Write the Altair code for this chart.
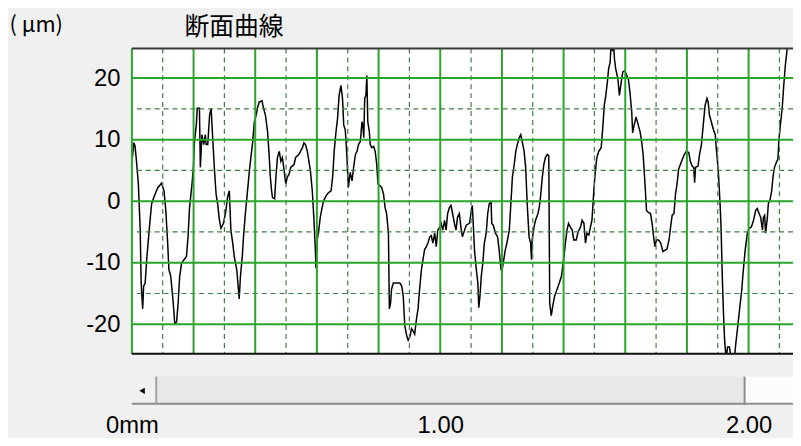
import altair as alt
import pandas as pd

# ---- profile curve (x in mm, height in µm) ----
x_mm = [
    0.002, 0.006, 0.010, 0.014, 0.021, 0.027, 0.030, 0.035, 0.038, 0.043, 0.048, 0.056, 0.064, 0.073, 0.084,
    0.096, 0.104, 0.110, 0.116, 0.120, 0.126, 0.134, 0.139, 0.145, 0.150, 0.155, 0.161, 0.169, 0.177, 0.182,
    0.187, 0.195, 0.200, 0.203, 0.209, 0.212, 0.219, 0.222, 0.227, 0.233, 0.238, 0.241, 0.246, 0.252, 0.257,
    0.262, 0.268, 0.273, 0.278, 0.284, 0.289, 0.297, 0.305, 0.310, 0.316, 0.321, 0.327, 0.332, 0.340, 0.348,
    0.352, 0.358, 0.362, 0.368, 0.376, 0.381, 0.387, 0.392, 0.397, 0.403, 0.408, 0.413, 0.422, 0.426, 0.433,
    0.440, 0.445, 0.449, 0.453, 0.456, 0.463, 0.467, 0.472, 0.478, 0.483, 0.488, 0.494, 0.499, 0.504, 0.510,
    0.515, 0.526, 0.531, 0.542, 0.553, 0.558, 0.563, 0.569, 0.574, 0.579, 0.585, 0.590, 0.595, 0.597, 0.601,
    0.606, 0.611, 0.617, 0.622, 0.630, 0.638, 0.646, 0.651, 0.656, 0.662, 0.667, 0.672, 0.678, 0.683, 0.687,
    0.692, 0.697, 0.702, 0.708,
    0.714, 0.719, 0.725, 0.730, 0.735, 0.741, 0.746, 0.749, 0.752, 0.755, 0.759, 0.762, 0.765, 0.770, 0.773,
    0.778, 0.784, 0.789, 0.794, 0.798, 0.805, 0.810, 0.816, 0.821, 0.826, 0.832, 0.835, 0.839, 0.842, 0.848,
    0.859, 0.869, 0.875, 0.880, 0.885, 0.891, 0.896, 0.901, 0.907, 0.912, 0.917, 0.923, 0.928, 0.933, 0.939,
    0.944, 0.949, 0.955, 0.960, 0.966, 0.971, 0.976, 0.982, 0.987, 0.992, 0.998, 1.003, 1.008, 1.014, 1.019,
    1.024, 1.030, 1.035, 1.040, 1.046, 1.051, 1.056, 1.062, 1.067, 1.072,
    1.079, 1.084, 1.095, 1.101, 1.104, 1.108, 1.111, 1.117, 1.122, 1.125, 1.129, 1.133, 1.138, 1.143, 1.149,
    1.154, 1.159, 1.165, 1.167, 1.172, 1.179, 1.186, 1.191, 1.197, 1.200, 1.204, 1.211, 1.216, 1.224, 1.229,
    1.234, 1.240, 1.245, 1.250, 1.256, 1.261, 1.266, 1.272, 1.277, 1.282, 1.288, 1.293, 1.296, 1.298, 1.304,
    1.309, 1.317, 1.321, 1.325, 1.331, 1.336, 1.341, 1.347, 1.352, 1.355, 1.360, 1.365, 1.371, 1.379, 1.386,
    1.393, 1.400, 1.406, 1.411, 1.416, 1.422,
    1.428, 1.433, 1.441, 1.447, 1.455, 1.460, 1.466, 1.471, 1.476, 1.482, 1.487, 1.492, 1.498, 1.503, 1.508,
    1.514, 1.522, 1.527, 1.532, 1.537, 1.542, 1.546, 1.551, 1.554, 1.559, 1.562, 1.565, 1.569, 1.576, 1.581,
    1.587, 1.592, 1.599, 1.605, 1.610, 1.615, 1.621, 1.624, 1.629, 1.635, 1.642, 1.648, 1.653, 1.658, 1.664,
    1.669, 1.674, 1.682, 1.687, 1.692, 1.696, 1.701, 1.708, 1.715, 1.722, 1.728, 1.735, 1.742, 1.747, 1.752,
    1.758, 1.763, 1.768, 1.773, 1.779, 1.785, 1.792,
    1.798, 1.806, 1.811, 1.817, 1.822, 1.825, 1.828, 1.836, 1.841, 1.847, 1.852, 1.855, 1.859, 1.865, 1.869,
    1.873, 1.879, 1.886, 1.892, 1.895, 1.899, 1.903, 1.908, 1.911, 1.914, 1.918, 1.922, 1.927, 1.932, 1.938,
    1.943, 1.954, 1.959, 1.964, 1.972, 1.978, 1.982, 1.989, 1.996, 2.002, 2.009, 2.016, 2.023, 2.028, 2.034,
    2.039, 2.045, 2.048, 2.052, 2.055, 2.061, 2.064, 2.069, 2.075, 2.079, 2.084, 2.090, 2.095, 2.098, 2.103,
    2.109, 2.114, 2.119, 2.125, 2.128,
]
z_um = [
    7.2, 9.5, 9.0, 7.0, 2.8, -4.7, -13.3, -17.5, -13.8, -13.3, -9.5, -4.7, -0.4, 0.9, 2.2,
    2.9, 1.7, -1.5, -6.8, -11.1, -12.2, -16.5, -19.9, -19.6, -16.5, -12.2, -10.1, -9.5, -9.0, -5.8,
    -1.0, 2.8, 6.0, 9.7, 12.4, 15.1, 15.1, 5.5, 10.8, 9.2, 10.8, 9.2, 9.2, 14.0, 15.1,
    10.3, 4.9, 1.2, -0.4, -3.1, -4.4, -3.6, -1.5, 0.6, 1.7, -4.7, -6.8, -9.0, -11.1, -15.9,
    -12.2, -9.0, -5.8, -2.0, 2.2, 4.9, 7.6, 9.7, 12.9, 14.0, 15.3, 16.1, 16.3, 15.3, 14.0,
    11.3, 7.6, 3.9, 1.7, 0.6, 0.4, 3.9, 7.1, 8.1, 6.5, 7.1, 4.9, 2.8, 3.9, 4.4,
    5.5, 6.0, 7.1, 7.6, 8.7, 9.5, 9.2, 8.1, 6.5, 4.9, 1.7, -2.6, -7.9, -10.9, -6.3,
    -4.7, -2.6, -1.0, 0.1, 0.9, 1.4, 1.7, 3.9, 8.1, 11.3, 13.5, 17.2, 18.8, 16.7, 12.4,
    11.6, 7.6, 2.2, 4.7,
    3.3, 5.5, 7.6, 8.1, 9.2, 9.7, 12.9, 12.4, 10.3, 16.7, 17.2, 20.4, 12.9, 11.3, 9.2,
    8.7, 8.9, 8.1, 6.0, 2.8, 2.5, 2.2, 1.2, -1.0, -2.0, -5.2, -17.5, -16.5, -14.3, -13.3,
    -13.3, -13.3, -13.8, -15.4, -20.2, -21.8, -22.6, -22.1, -20.7, -21.1, -21.6, -19.1, -17.5, -14.3, -11.1,
    -9.5, -7.9, -7.4, -6.8, -5.8, -5.6, -6.8, -5.2, -7.4, -4.7, -4.2, -3.6, -4.7, -3.1, -4.7,
    -2.0, -1.0, -0.7, -2.0, -3.6, -4.7, -2.6, -2.0, -4.2, -5.8,
    -4.7, -3.9, -3.6, -1.5, -0.7, -4.7, -7.9, -11.1, -13.3, -17.3, -15.4, -12.2, -10.1, -6.8, -5.2,
    -2.0, -0.4, -0.2, -3.6, -3.9, -5.2, -5.8, -7.9, -11.1, -11.4, -10.1, -7.9, -6.8, -4.7, -0.4,
    3.9, 6.0, 8.1, 9.2, 10.3, 10.8, 9.7, 8.1, 5.5, -0.4, -5.8, -6.8, -9.5, -6.3, -4.2,
    -3.1, -2.0, -1.0, 0.6, 3.9, 6.0, 7.1, 7.6, 7.4, -16.5, -18.6, -17.0, -15.4, -14.3, -13.3,
    -12.2, -9.5, -6.8, -4.7, -3.6, -4.2,
    -4.7, -6.3, -6.3, -5.0, -4.2, -3.1, -3.6, -6.8, -5.2, -5.5, -4.2, -3.1, 1.7, 4.9, 7.1,
    8.1, 8.7, 11.9, 15.6, 17.2, 19.4, 21.5, 22.6, 25.5, 24.4, 25.5, 23.1, 21.5, 19.9, 17.2,
    19.4, 21.0, 21.2, 20.4, 19.9, 17.8, 14.5, 11.1, 12.4, 13.7, 12.4, 11.3, 9.7, 7.6, 2.8,
    -1.5, -1.8, -2.0, -3.6, -5.8, -7.4, -6.3, -6.3, -6.8, -8.2, -8.0, -7.8, -6.3, -4.2, -2.3,
    -2.0, 1.2, 2.8, 5.2, 6.0, 6.8, 7.6,
    8.1, 7.9, 6.5, 5.7, 5.5, 3.0, 5.5, 5.7, 7.6, 9.2, 11.9, 13.5, 15.6, 16.7, 16.1,
    14.0, 12.9, 11.6, 10.8, 8.7, 6.5, 3.9, -1.0, -4.7, -11.1, -17.5, -22.4, -25.5, -23.7, -23.7,
    -25.5, -25.5, -22.9, -20.7, -17.0, -14.3, -11.7, -7.9, -5.2, -4.4, -4.2, -3.1, -1.5, -1.2, -2.0,
    -2.6, -4.7, -2.6, -2.3, -5.2, -2.6, -0.4, 0.1, 1.7, 3.9, 5.5, 6.3, 6.8, 9.7, 12.4,
    15.1, 18.8, 22.0, 24.7, 26.0,
]

# ---- grid / ticks ----
major_x = [0.0, 0.2, 0.4, 0.6, 0.8, 1.0, 1.2, 1.4, 1.6, 1.8, 2.0]
minor_x = [0.1, 0.3, 0.5, 0.7, 0.9, 1.1, 1.3, 1.5, 1.7, 1.9, 2.1]
major_y = [-20, -10, 0, 10, 20]
minor_y = [-15, -5, 5, 15]
x_ticks = [0, 1, 2]
y_ticks = [-20, -10, 0, 10, 20]

# ---- scrollbar pieces (drawn in the same mm / µm coordinates, below the plot) ----
sb_x0 = [0.0, 0.0, 1.987]
sb_x1 = [2.144, 0.079, 2.144]
sb_fill = ["#e8e8e8", "#f0f0f0", "#fcfcfc"]
sb_top, sb_bottom = -28.5, -33.1

X_DOMAIN = [0, 2.144]
Y_DOMAIN = [-24.8, 24.8]

xs = alt.Scale(domain=X_DOMAIN, nice=False, zero=False)
ys = alt.Scale(domain=Y_DOMAIN, nice=False, zero=False)

LABEL_FONT = "Liberation Sans Narrow, Liberation Sans, sans-serif"
SOLID = "#2aa52a"
DASHED = "#3f7f3f"

X_AXIS = alt.Axis(
    values=x_ticks,
    labelExpr="datum.value == 0 ? '0mm' : format(datum.value, '.2f')",
    ticks=False,
    domain=False,
    grid=False,
    labelPadding=60,
    labelFontSize=24,
    labelFont=LABEL_FONT,
    labelColor="black",
    labelFlush=False,
    labelOverlap=False,
    title=None,
)
Y_AXIS = alt.Axis(
    values=y_ticks,
    labelExpr="'' + datum.value",
    ticks=False,
    domain=False,
    grid=False,
    labelPadding=12,
    labelFontSize=24,
    labelFont=LABEL_FONT,
    labelColor="black",
    title="( μm)",
    titleAngle=0,
    titleX=-124,
    titleY=-24,
    titleAlign="left",
    titleBaseline="middle",
    titleFontSize=22,
    titleFont="Noto Sans CJK JP",
    titleFontWeight="normal",
    titleColor="black",
)


def X(field):
    return alt.X(field, type="quantitative", scale=xs, axis=X_AXIS)


def Y(field):
    return alt.Y(field, type="quantitative", scale=ys, axis=Y_AXIS)


profile = pd.DataFrame({"x": x_mm, "z": z_um})

minor_v = alt.Chart(pd.DataFrame({"x": minor_x})).mark_rule(
    color=DASHED, strokeWidth=1.2, strokeDash=[5, 4]
).encode(x=X("x"))
minor_h = alt.Chart(pd.DataFrame({"z": minor_y})).mark_rule(
    color=DASHED, strokeWidth=1.2, strokeDash=[5, 4]
).encode(y=Y("z"))
major_v = alt.Chart(pd.DataFrame({"x": major_x})).mark_rule(
    color=SOLID, strokeWidth=2
).encode(x=X("x"))
major_h = alt.Chart(pd.DataFrame({"z": major_y})).mark_rule(
    color=SOLID, strokeWidth=2
).encode(y=Y("z"))

line = alt.Chart(profile).mark_line(color="black", strokeWidth=1.5, clip=True).encode(
    x=X("x"), y=Y("z")
)

borders = alt.Chart(
    pd.DataFrame({"z": [Y_DOMAIN[1], Y_DOMAIN[0]], "c": ["#3a3a3a", "#111111"]})
).mark_rule(strokeWidth=2).encode(y=Y("z"), color=alt.Color("c:N", scale=None))

sb = pd.DataFrame({"x": sb_x0, "x2": sb_x1, "z": [sb_top] * 3, "z2": [sb_bottom] * 3, "c": sb_fill})
sb_rects = alt.Chart(sb).mark_rect().encode(
    x=X("x"), x2="x2", y=Y("z"), y2="z2", color=alt.Color("c:N", scale=None)
)
sb_lines_df = pd.DataFrame({
    "x": [0.0, 0.079, 1.987],
    "x2": [2.144, 0.079, 1.987],
    "z": [sb_bottom + 0.2, sb_top, sb_top],
    "z2": [sb_bottom + 0.2, sb_bottom, sb_bottom],
    "c": ["#8c8c8c", "#a0a0a0", "#8c8c8c"],
})
sb_lines = alt.Chart(sb_lines_df).mark_rule(strokeWidth=2).encode(
    x=X("x"), x2="x2", y=Y("z"), y2="z2", color=alt.Color("c:N", scale=None)
)
arrow = alt.Chart(pd.DataFrame({"x": [0.033], "z": [-30.8]})).mark_point(
    shape="triangle-left", filled=True, color="black", size=40, opacity=1
).encode(x=X("x"), y=Y("z"))

chart = alt.layer(
    line, minor_v, minor_h, major_v, major_h, borders, sb_rects, sb_lines, arrow
).properties(
    width=667,
    height=308,
    autosize="none",
    padding={"left": 125, "top": 39, "right": 0, "bottom": 83},
    background="#f0f0f0",
    title=alt.TitleParams(
        "断面曲線",
        anchor="start",
        frame="group",
        dx=53,
        dy=34,
        offset=8,
        fontSize=25,
        font="Noto Sans CJK JP",
        fontWeight="normal",
        color="black",
    ),
).configure_view(fill="white", stroke=None)

chart.save("out.html", embed_options={"renderer": "svg", "actions": False})
